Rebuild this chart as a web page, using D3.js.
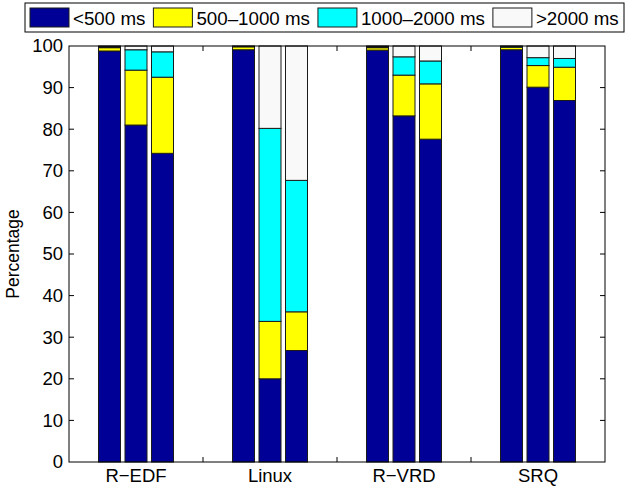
<!DOCTYPE html>
<html>
<head>
<meta charset="utf-8">
<script src="https://cdn.jsdelivr.net/npm/d3@7"></script>
<style>
  html, body { margin: 0; padding: 0; background: #fff; }
  svg { display: block; font-family: "Liberation Sans", Arial, Helvetica, sans-serif; }
</style>
</head>
<body>
<svg id="chart" width="642" height="487"></svg>
<script>
// Schedulers compared, three runs each
const categories = ["R\u2212EDF", "Linux", "R\u2212VRD", "SRQ"];
const runs = [0, 1, 2];

// Share of requests per latency bucket, in percent (group by group, run by run)
const under500   = [98.8, 81.0, 74.2,   99.1, 20.0, 26.8,   99.0, 83.2, 77.6,   99.1, 90.1, 86.9];
const from500    = [ 0.8, 13.2, 18.3,    0.7, 13.8,  9.3,    0.6,  9.8, 13.3,    0.6,  5.2,  8.0];
const from1000   = [ 0.2,  4.9,  6.1,    0.1, 46.4, 31.6,    0.2,  4.4,  5.5,    0.2,  1.9,  2.1];
const over2000   = [ 0.2,  0.9,  1.4,    0.1, 19.8, 32.3,    0.2,  2.6,  3.6,    0.1,  2.8,  3.0];

const seriesNames  = ["<500 ms", "500\u20131000 ms", "1000\u20132000 ms", ">2000 ms"];
const seriesColors = ["#000096", "#ffff00", "#00ffff", "#f9f9f9"];
const yTicks = [0, 10, 20, 30, 40, 50, 60, 70, 80, 90, 100];

const seriesValues = [under500, from500, from1000, over2000];

const svg = d3.select("#chart");
const plotLeft = 69, plotRight = 605, plotTop = 46, plotBottom = 462;
const fontSize = 18.5;

const x = d3.scaleBand().domain(categories).range([plotLeft, plotRight]).padding(0);
const inner = d3.scaleBand().domain(runs)
  .range([x.bandwidth() / 2 - 39.75, x.bandwidth() / 2 + 39.75])
  .paddingInner(0.17).paddingOuter(0.085);
const y = d3.scaleLinear().domain([0, 100]).range([plotBottom, plotTop]);

// Build stacked rows: one per bar
const rows = [];
categories.forEach((c, gi) => {
  runs.forEach(r => {
    const i = gi * runs.length + r;
    const row = { cat: c, run: r };
    seriesNames.forEach((s, si) => { row[s] = seriesValues[si][i]; });
    rows.push(row);
  });
});
const stacked = d3.stack().keys(seriesNames)(rows);

// Bars
const g = svg.append("g");
stacked.forEach((layer, si) => {
  g.selectAll(null).data(layer).join("rect")
    .attr("x", d => x(d.data.cat) + inner(d.data.run))
    .attr("width", inner.bandwidth())
    .attr("y", d => y(d[1]))
    .attr("height", d => y(d[0]) - y(d[1]))
    .attr("fill", seriesColors[si])
    .attr("stroke", "#1a1a1a")
    .attr("stroke-width", 1);
});

// Axes box
svg.append("rect")
  .attr("x", plotLeft).attr("y", plotTop)
  .attr("width", plotRight - plotLeft).attr("height", plotBottom - plotTop)
  .attr("fill", "none").attr("stroke", "#000").attr("stroke-width", 1);

// Y axis labels, with inward ticks on both sides
const ya = svg.append("g").attr("transform", `translate(${plotLeft},0)`)
  .call(d3.axisLeft(y).tickValues(yTicks).tickSize(0).tickPadding(6));
ya.select(".domain").remove();
ya.selectAll("text").attr("font-size", fontSize).attr("fill", "#000")
  .attr("font-family", "Liberation Sans, Arial, sans-serif");

const innerTicks = yTicks.filter(v => v > 0 && v < 100);
svg.selectAll(null).data(innerTicks).join("line")
  .attr("x1", plotLeft).attr("x2", plotLeft + 5)
  .attr("y1", d => y(d)).attr("y2", d => y(d))
  .attr("stroke", "#000");
svg.selectAll(null).data(innerTicks).join("line")
  .attr("x1", plotRight).attr("x2", plotRight - 5)
  .attr("y1", d => y(d)).attr("y2", d => y(d))
  .attr("stroke", "#000");

// X axis: category labels under each group, ticks on group boundaries
const xa = svg.append("g").attr("transform", `translate(0,${plotBottom})`)
  .call(d3.axisBottom(x).tickSize(0).tickPadding(7));
xa.select(".domain").remove();
xa.selectAll("text").attr("font-size", fontSize).attr("fill", "#000")
  .attr("font-family", "Liberation Sans, Arial, sans-serif");

const bounds = categories.slice(1).map(c => x(c));
svg.selectAll(null).data(bounds).join("line")
  .attr("x1", d => d).attr("x2", d => d)
  .attr("y1", plotBottom).attr("y2", plotBottom - 5).attr("stroke", "#000");
svg.selectAll(null).data(bounds).join("line")
  .attr("x1", d => d).attr("x2", d => d)
  .attr("y1", plotTop).attr("y2", plotTop + 5).attr("stroke", "#000");

// Y label
svg.append("text")
  .attr("transform", `translate(19,${(plotTop + plotBottom) / 2}) rotate(-90)`)
  .attr("text-anchor", "middle")
  .attr("font-size", 17.5)
  .text("Percentage");

// Legend: one row of swatch + label entries inside a framed box,
// label size chosen so the row spans the box
const legLeft = 25, legRight = 624, swW = 39, swGap = 4, itemGap = 8, pad = 5;
const lg = svg.append("g");
const frame = lg.append("rect").attr("x", legLeft).attr("y", 3)
  .attr("width", legRight - legLeft).attr("height", 29)
  .attr("fill", "#fff").attr("stroke", "#000");
const labels = seriesNames.map(s => lg.append("text").attr("font-size", 10).text(s));
const unitLen = d3.sum(labels, t => t.node().getComputedTextLength()) / 10;
const fixedLen = 2 * pad + seriesNames.length * (swW + swGap) + (seriesNames.length - 1) * itemGap;
const legendFont = (legRight - legLeft - fixedLen) / unitLen;
let lx = legLeft + pad;
seriesNames.forEach((s, i) => {
  lg.append("rect").attr("x", lx).attr("y", 8).attr("width", swW).attr("height", 19)
    .attr("fill", seriesColors[i]).attr("stroke", "#1a1a1a");
  labels[i].attr("font-size", legendFont).attr("x", lx + swW + swGap).attr("y", 24.5);
  lx += swW + swGap + labels[i].node().getComputedTextLength() + itemGap;
});
</script>
</body>
</html>
